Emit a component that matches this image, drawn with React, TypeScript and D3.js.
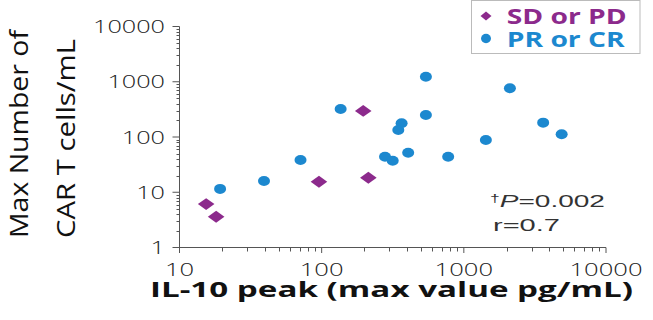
import React from "react";
import * as d3 from "d3";

const xTickValues = [10, 100, 1000, 10000];
const xTickLabels = ["10", "100", "1000", "10000"];
const yTickValues = [1, 10, 100, 1000, 10000];
const yTickLabels = ["1", "10", "100", "1000", "10000"];

// PR or CR (blue circles)
const prcrX = [19.3, 39.3, 71, 136, 279, 316, 406, 776, 541, 2109, 541, 365, 346, 3614, 4876, 1429];
const prcrY = [11.5, 16.0, 38.3, 321, 44, 37.2, 52, 44, 1234, 761, 250, 177, 134, 182, 112, 88];
// SD or PD (purple diamonds)
const sdpdX = [15.4, 18.1, 95.7, 213, 196];
const sdpdY = [6.1, 3.6, 15.5, 18.3, 296];

const legendLabels = ["SD or PD", "PR or CR"];
const xTitle = "IL-10 peak (max value pg/mL)";
const yTitleLines = ["Max Number of", "CAR T cells/mL"];

const PURPLE = "#8c2a8c";
const BLUE = "#1c88cf";
const AXIS = "#555";

export default function App() {
  const W = 653, H = 320;
  const x = d3.scaleLog().domain([10, 10000]).range([179.5, 606]);
  const y = d3.scaleLog().domain([1, 10000]).range([247.5, 26.5]);

  const xMinor = x.ticks().filter((v) => !xTickValues.includes(v));
  const yMinor = y.ticks().filter((v) => !yTickValues.includes(v));

  const diamond = (cx: number, cy: number, hw: number, hh: number) =>
    `M${cx},${cy - hh}L${cx + hw},${cy}L${cx},${cy + hh}L${cx - hw},${cy}Z`;

  const tickFont = "'Open Sans', sans-serif";

  return (
    <svg width={W} height={H} style={{ position: "absolute", left: 0, top: 0 }}>
      <rect width={W} height={H} fill="#fff" />
      {/* axes */}
      <line x1={179.5} x2={179.5} y1={y(10000)} y2={y(1)} stroke={AXIS} strokeWidth={1} />
      <line x1={177} x2={x(10000)} y1={247.5} y2={247.5} stroke={AXIS} strokeWidth={1} />
      {yTickValues.map((v) => (
        <line key={"ym" + v} x1={172.5} x2={179.5} y1={y(v)} y2={y(v)} stroke={AXIS} />
      ))}
      {yMinor.map((v) => (
        <line key={"yn" + v} x1={176.5} x2={179.5} y1={Math.round(y(v)) + 0.5} y2={Math.round(y(v)) + 0.5} stroke={AXIS} />
      ))}
      {xTickValues.map((v) => (
        <line key={"xm" + v} x1={x(v)} x2={x(v)} y1={247.5} y2={253} stroke={AXIS} />
      ))}
      {xMinor.map((v) => (
        <line key={"xn" + v} x1={Math.round(x(v)) + 0.5} x2={Math.round(x(v)) + 0.5} y1={247.5} y2={251.5} stroke={AXIS} />
      ))}
      {/* tick labels */}
      {yTickValues.map((v, i) => (
        <text key={"yl" + v} x={165} y={y(v) + 6.5} textAnchor="end" fontFamily={tickFont} fontWeight={300}
          fontSize={18} fill="#222" textLength={yTickLabels[i].length * 14.4} lengthAdjust="spacingAndGlyphs">
          {yTickLabels[i]}
        </text>
      ))}
      {xTickValues.map((v, i) => (
        <text key={"xl" + v} x={x(v)} y={276} textAnchor="middle" fontFamily={tickFont} fontWeight={300}
          fontSize={18} fill="#222" textLength={xTickLabels[i].length * 14.6} lengthAdjust="spacingAndGlyphs">
          {xTickLabels[i]}
        </text>
      ))}
      {/* titles */}
      <text x={150} y={297} fontFamily={tickFont} fontWeight={700} fontSize={21} fill="#111"
        textLength={483} lengthAdjust="spacingAndGlyphs">{xTitle}</text>
      <text transform="translate(28,238) rotate(-90)" fontFamily={tickFont} fontWeight={500} fontSize={25}
        fill="#111" textLength={208} lengthAdjust="spacingAndGlyphs">{yTitleLines[0]}</text>
      <text transform="translate(75,238) rotate(-90)" fontFamily={tickFont} fontWeight={500} fontSize={25}
        fill="#111" textLength={199} lengthAdjust="spacingAndGlyphs">{yTitleLines[1]}</text>
      {/* points */}
      {prcrX.map((v, i) => (
        <ellipse key={"b" + i} cx={x(v)} cy={y(prcrY[i])} rx={6} ry={5} fill={BLUE} />
      ))}
      {sdpdX.map((v, i) => (
        <path key={"p" + i} d={diamond(x(v), y(sdpdY[i]), 8.3, 5.9)} fill={PURPLE} />
      ))}
      {/* annotation */}
      <text x={490} y={206.7} fontFamily="'Liberation Sans', Arial, sans-serif" fontSize={16} fill="#333"
        textLength={115} lengthAdjust="spacingAndGlyphs">
        <tspan fontSize={10} dy={-5}>†</tspan>
        <tspan fontStyle="italic" dy={5}>P</tspan>
        <tspan>=0.002</tspan>
      </text>
      <text x={493} y={230.5} fontFamily="'Liberation Sans', Arial, sans-serif" fontSize={16} fill="#333"
        textLength={67} lengthAdjust="spacingAndGlyphs">r=0.7</text>
      {/* legend */}
      <rect x={471.5} y={0.5} width={168.5} height={53} fill="#fff" stroke="#bbb" strokeWidth={1} />
      <path d={diamond(486, 16, 5.5, 4.5)} fill={PURPLE} />
      <ellipse cx={486} cy={38.5} rx={5} ry={4.7} fill={BLUE} />
      <text x={506.7} y={24} fontFamily={tickFont} fontWeight={700} fontSize={21.5} fill={PURPLE}
        textLength={120} lengthAdjust="spacingAndGlyphs">{legendLabels[0]}</text>
      <text x={506.7} y={46.7} fontFamily={tickFont} fontWeight={700} fontSize={21.5} fill={BLUE}
        textLength={118} lengthAdjust="spacingAndGlyphs">{legendLabels[1]}</text>
    </svg>
  );
}
